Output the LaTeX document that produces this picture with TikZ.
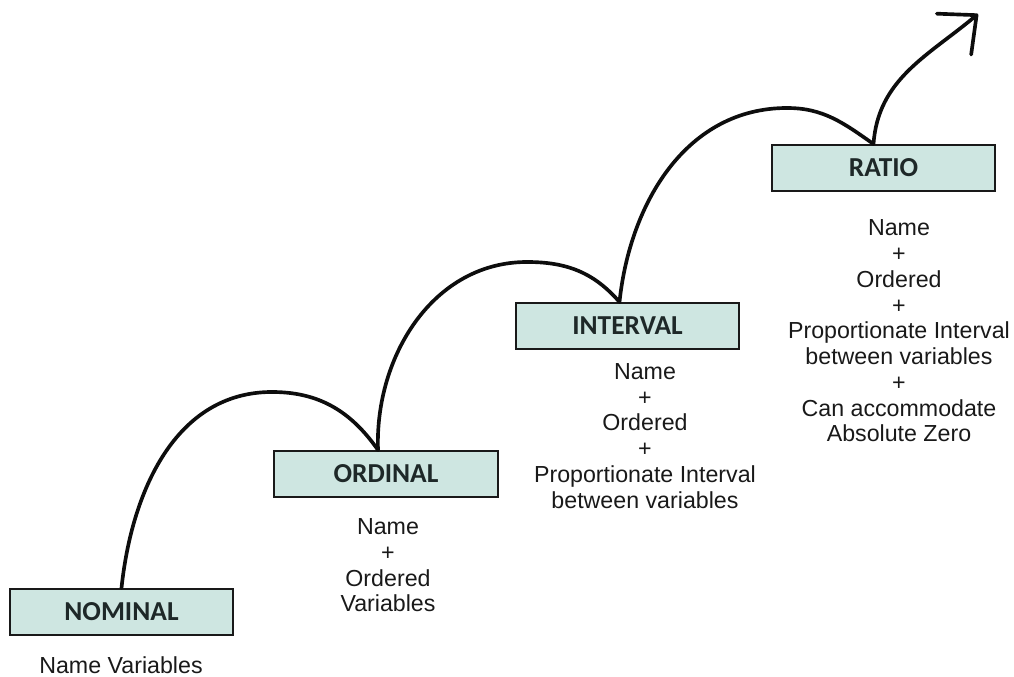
\documentclass[tikz,border=0pt]{standalone}
\usepackage{fontspec}
\setmainfont{Liberation Sans}
\newfontfamily\boxfont{Carlito}
\usetikzlibrary{arrows.meta,calc}
\definecolor{boxfill}{RGB}{206,230,225}
\definecolor{boxtext}{RGB}{30,40,40}
\definecolor{bodytext}{RGB}{25,25,25}
\begin{document}
\begin{tikzpicture}[x=0.025cm,y=0.025cm,
  levelbox/.style={draw=black!90, line width=1.4pt, fill=boxfill,
    minimum width=5.575cm, minimum height=1.15cm, inner sep=0pt,
    font=\boxfont\bfseries\fontsize{19.5}{21}\selectfont, text=boxtext},
  desc/.style={align=center, inner sep=0pt, text=bodytext,
    font=\fontsize{16.5}{18.3}\selectfont},
  jump/.style={line width=2.6pt, black!95, line cap=round}]
\useasboundingbox (0,0) rectangle (1014,677);
\node[levelbox] (nom) at (121.5,65) {NOMINAL};
\node[levelbox] (ord) at (386,203) {ORDINAL};
\node[levelbox] (int) at (627.5,351) {INTERVAL};
\node[levelbox] (rat) at (883.5,509) {RATIO};
\node[desc] (dnom) at (121,12) {Name Variables};
\node[desc] (dord) at (388,111.5) {Name\\+\\Ordered\\Variables};
\node[desc] (dint) at (645,241) {Name\\+\\Ordered\\+\\Proportionate Interval\\between variables};
\node[desc] (drat) at (899,346) {Name\\+\\Ordered\\+\\Proportionate Interval\\between variables\\+\\Can accommodate\\Absolute Zero};
\coordinate (p1) at (nom.north);
\coordinate (p2) at ($(ord.north)+(-8,0)$);
\coordinate (p3) at ($(int.north)+(-8,0)$);
\coordinate (p4) at ($(rat.north)+(-10,0)$);
\coordinate (k1) at (272,285);
\coordinate (k2) at (527,415);
\coordinate (k3) at (787,569);
\coordinate (tip) at (978,663);
\draw[jump] (p1) to[out=84,in=180] (k1) to[out=0,in=125] (p2);
\draw[jump] (p2) to[out=92,in=180] (k2) to[out=0,in=131] (p3);
\draw[jump] (p3) to[out=84,in=180] (k3) to[out=0,in=145] (p4);
\draw[jump, -{Straight Barb[length=21pt,width=38pt,line width=2.6pt,round]}] (p4) to[out=86,in=220] (tip);
\end{tikzpicture}
\end{document}
